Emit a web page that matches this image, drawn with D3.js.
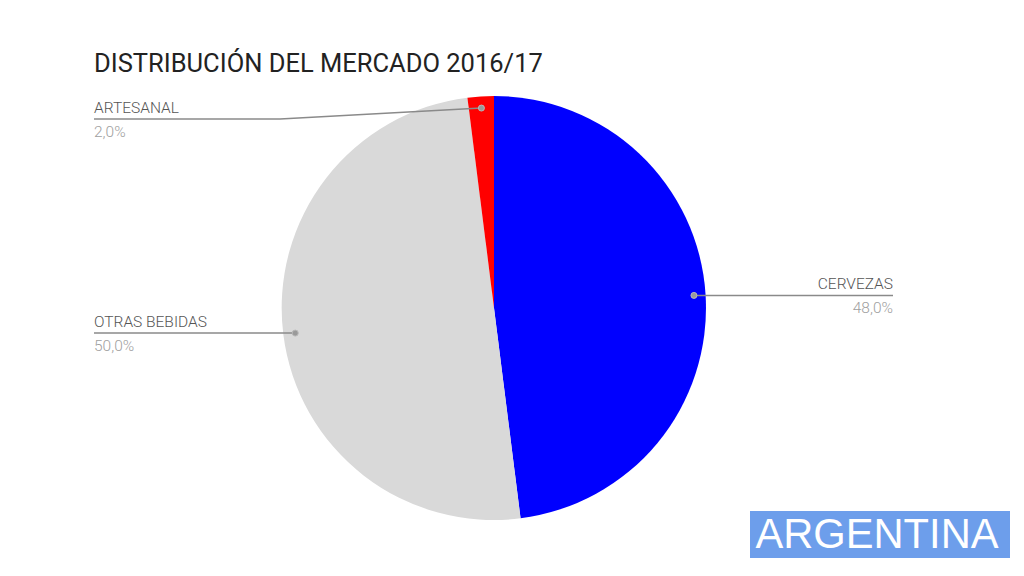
<!DOCTYPE html>
<html><head><meta charset="utf-8">
<script src="https://cdn.jsdelivr.net/npm/d3@7"></script>
<style>body{margin:0;background:#fff;}svg{display:block;}</style>
</head><body>
<svg id="c" width="1024" height="576"></svg>
<script>
const categories = ["CERVEZAS", "OTRAS BEBIDAS", "ARTESANAL"];
const values = [48.0, 50.0, 2.0];
const colors = ["#0000ff", "#d9d9d9", "#ff0000"];
const titleText = "DISTRIBUCIÓN DEL MERCADO 2016/17";
const badgeText = "ARGENTINA";

const svg = d3.select("#c");
const cx = 494, cy = 308, R = 212;
const fmt = v => v.toFixed(1).replace(".", ",") + "%";

svg.append("text").attr("x", 94).attr("y", 72)
  .attr("font-family", "Roboto").attr("font-size", 25.5).attr("fill", "#222")
  .text(titleText);

const data = categories.map((c, i) => ({name: c, value: values[i], color: colors[i]}));
const pie = d3.pie().value(d => d.value).sort(null);
const arcs = pie(data);
const arc = d3.arc().innerRadius(0).outerRadius(R);
const g = svg.append("g").attr("transform", `translate(${cx},${cy})`);
g.selectAll("path").data(arcs).join("path").attr("d", arc).attr("fill", d => d.data.color);

const dotArc = d3.arc().innerRadius(R * 0.945).outerRadius(R * 0.945);
const lineColor = "#8a8a8a";
arcs.forEach(a => {
  const [px, py] = dotArc.centroid(a);
  const dx = cx + px, dy = cy + py;
  const right = dx > cx + 20;
  let pts;
  if (right) {
    pts = [[dx, dy], [893, dy]];
  } else if (a.data.name === "ARTESANAL") {
    pts = [[dx, dy], [280, dy + 11], [94, dy + 11]];
  } else {
    pts = [[dx, dy], [94, dy]];
  }
  svg.append("path").attr("d", d3.line()(pts)).attr("fill", "none")
    .attr("stroke", lineColor).attr("stroke-width", 1.5);
  svg.append("circle").attr("cx", dx).attr("cy", dy).attr("r", 3)
    .attr("fill", "#9a9a9a").attr("stroke", "#b8b8b8").attr("stroke-width", 1);
  const ly = pts[pts.length - 1][1];
  const lx = right ? 893 : 94;
  const anchor = right ? "end" : "start";
  svg.append("text").attr("x", lx).attr("y", ly - 6).attr("text-anchor", anchor)
    .attr("font-family", "Roboto").attr("font-weight", 300).attr("font-size", 15.5).attr("fill", "#555")
    .text(a.data.name);
  svg.append("text").attr("x", lx).attr("y", ly + 18).attr("text-anchor", anchor)
    .attr("font-family", "Roboto").attr("font-weight", 300).attr("font-size", 15.5).attr("fill", "#a0a0a0")
    .text(fmt(a.data.value));
});

svg.append("rect").attr("x", 750).attr("y", 511).attr("width", 260).attr("height", 47)
  .attr("fill", "#6d9eeb");
svg.append("text").attr("x", 877).attr("y", 548).attr("text-anchor", "middle")
  .attr("font-family", "Liberation Sans").attr("font-size", 42).attr("fill", "#fff")
  .attr("textLength", 243).attr("lengthAdjust", "spacingAndGlyphs")
  .text(badgeText);
</script>
</body></html>
